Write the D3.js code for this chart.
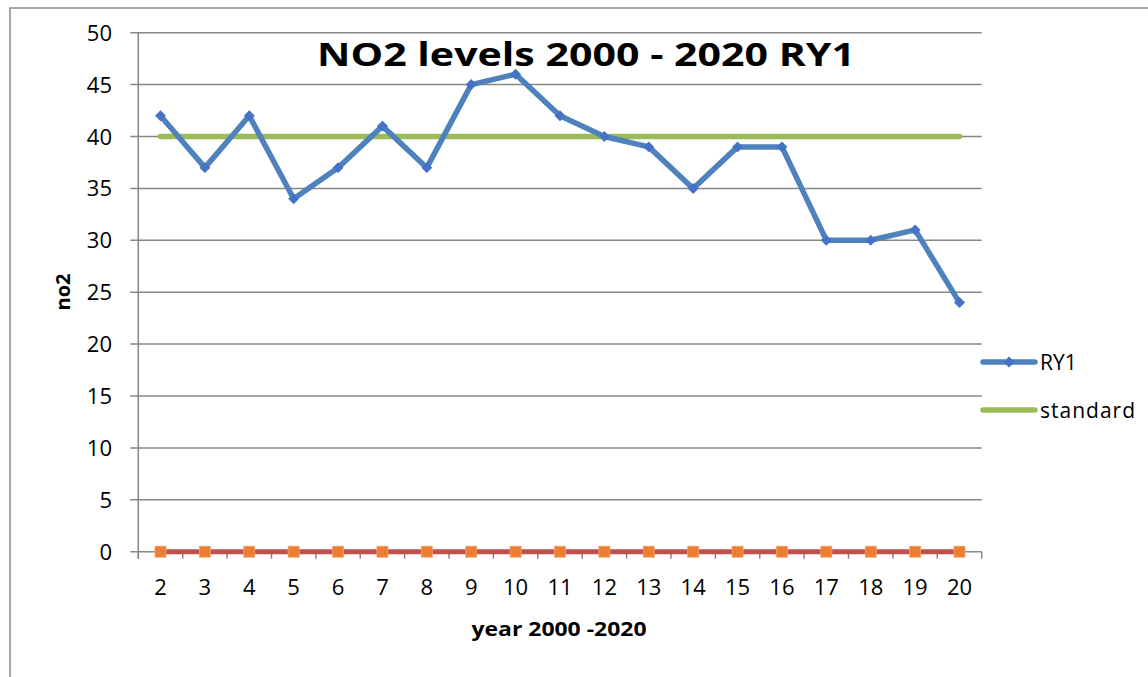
<!DOCTYPE html>
<html>
<head>
<script src="https://cdn.jsdelivr.net/npm/d3@7"></script>
<style type="text/css">
	body { margin: 0; background: #fff; }
	text { font-family: "Open Sans", Lato, sans-serif; }
</style>
</head>
<body>
<script>

	// chart data
	var years = [2, 3, 4, 5, 6, 7, 8, 9, 10, 11, 12, 13, 14, 15, 16, 17, 18, 19, 20];
	var ry1 = [42, 37, 42, 34, 37, 41, 37, 45, 46, 42, 40, 39, 35, 39, 39, 30, 30, 31, 24];
	var standard = [40, 40, 40, 40, 40, 40, 40, 40, 40, 40, 40, 40, 40, 40, 40, 40, 40, 40, 40];
	var zeroSeries = [0, 0, 0, 0, 0, 0, 0, 0, 0, 0, 0, 0, 0, 0, 0, 0, 0, 0, 0];
	var yTicks = [0, 5, 10, 15, 20, 25, 30, 35, 40, 45, 50];

	var canvas = d3.select("body").append("svg")
		.attr("width", 1148)
		.attr("height", 677);

	// outer chart border (cut by the window on right and bottom)
	canvas.append("rect")
		.attr("x", 10).attr("y", 8)
		.attr("width", 1160).attr("height", 700)
		.attr("fill", "none")
		.attr("stroke", "#8c8c8c")
		.attr("stroke-width", 1.5);

	var plotLeft = 138.3, plotRight = 981.7, plotTop = 32.7, plotBottom = 551.7;

	var x = d3.scaleBand().domain(years).range([plotLeft, plotRight]);
	var y = d3.scaleLinear().domain([0, 50]).range([plotBottom, plotTop]);
	var cx = function (d, i) { return x(years[i]) + x.bandwidth() / 2; };

	// horizontal gridlines + y ticks
	canvas.append("g").selectAll("line")
		.data(yTicks)
		.enter()
		.append("line")
		.attr("x1", plotLeft - 8).attr("x2", plotRight)
		.attr("y1", function (d) { return y(d); })
		.attr("y2", function (d) { return y(d); })
		.attr("stroke", "#868686")
		.attr("stroke-width", 1.5);

	canvas.append("g").selectAll("text")
		.data(yTicks)
		.enter()
		.append("text")
		.attr("x", 112)
		.attr("y", function (d) { return y(d) + 8; })
		.attr("text-anchor", "end")
		.attr("font-size", 22)
		.text(function (d) { return d; });

	// y axis line
	canvas.append("line")
		.attr("x1", plotLeft).attr("x2", plotLeft)
		.attr("y1", plotTop).attr("y2", plotBottom + 7)
		.attr("stroke", "#868686")
		.attr("stroke-width", 1.5);

	// x axis ticks at band edges
	var edges = years.map(function (d) { return x(d); }).concat([plotRight]);
	canvas.append("g").selectAll("line")
		.data(edges)
		.enter()
		.append("line")
		.attr("x1", function (d) { return d; })
		.attr("x2", function (d) { return d; })
		.attr("y1", plotBottom).attr("y2", plotBottom + 7)
		.attr("stroke", "#868686")
		.attr("stroke-width", 1.5);

	canvas.append("g").selectAll("text")
		.data(years)
		.enter()
		.append("text")
		.attr("x", function (d) { return x(d) + x.bandwidth() / 2; })
		.attr("y", 595)
		.attr("text-anchor", "middle")
		.attr("font-size", 22)
		.text(function (d) { return d; });

	var line = d3.line()
		.x(cx)
		.y(function (d) { return y(d); });

	// zero series (red line, orange squares)
	canvas.append("path")
		.attr("d", line(zeroSeries))
		.attr("fill", "none")
		.attr("stroke", "#c0504d")
		.attr("stroke-width", 5);
	canvas.append("g").selectAll("rect")
		.data(zeroSeries)
		.enter()
		.append("rect")
		.attr("x", function (d, i) { return cx(d, i) - 5.5; })
		.attr("y", function (d) { return y(d) - 5.5; })
		.attr("width", 11).attr("height", 11)
		.attr("fill", "#ed7d31")
		.attr("stroke", "#f4a36c")
		.attr("stroke-width", 0.8);

	// standard
	canvas.append("path")
		.attr("d", line(standard))
		.attr("fill", "none")
		.attr("stroke", "#9bbb59")
		.attr("stroke-width", 5.5)
		.attr("stroke-linecap", "round");

	// RY1
	canvas.append("path")
		.attr("d", line(ry1))
		.attr("fill", "none")
		.attr("stroke", "#4f81bd")
		.attr("stroke-width", 5.5)
		.attr("stroke-linejoin", "round");
	var diamond = d3.symbol().type(d3.symbolSquare).size(60);
	canvas.append("g").selectAll("path")
		.data(ry1)
		.enter()
		.append("path")
		.attr("d", diamond)
		.attr("transform", function (d, i) { return "translate(" + cx(d, i) + "," + y(d) + ") rotate(45)"; })
		.attr("fill", "#4472c4");

	// legend
	var legend = [
		{ name: "RY1", color: "#4f81bd", marker: true, y: 362 },
		{ name: "standard", color: "#9bbb59", marker: false, y: 410 }
	];
	var lg = canvas.append("g").selectAll("g")
		.data(legend)
		.enter()
		.append("g");
	lg.append("line")
		.attr("x1", 983).attr("x2", 1035)
		.attr("y1", function (d) { return d.y; })
		.attr("y2", function (d) { return d.y; })
		.attr("stroke", function (d) { return d.color; })
		.attr("stroke-width", 5.5)
		.attr("stroke-linecap", "round");
	lg.filter(function (d) { return d.marker; })
		.append("path")
		.attr("d", diamond)
		.attr("transform", function (d) { return "translate(1009," + d.y + ") rotate(45)"; })
		.attr("fill", "#4472c4");
	lg.append("text")
		.attr("x", 1040)
		.attr("y", function (d) { return d.y + 8; })
		.attr("font-size", 21)
		.attr("textLength", function (d) { return d.name == "standard" ? 95 : null; })
		.text(function (d) { return d.name; });

	// titles
	canvas.append("text")
		.attr("x", 586).attr("y", 66)
		.attr("text-anchor", "middle")
		.attr("font-size", 32)
		.attr("font-weight", "bold")
		.attr("textLength", 538)
		.attr("lengthAdjust", "spacingAndGlyphs")
		.text("NO2 levels 2000 - 2020 RY1");

	canvas.append("text")
		.attr("x", 559).attr("y", 636)
		.attr("text-anchor", "middle")
		.attr("font-size", 20)
		.attr("font-weight", "bold")
		.attr("textLength", 175)
		.attr("lengthAdjust", "spacingAndGlyphs")
		.text("year 2000 -2020");

	canvas.append("text")
		.attr("transform", "translate(70,292) rotate(-90)")
		.attr("text-anchor", "middle")
		.attr("font-size", 20)
		.attr("font-weight", "bold")
		.text("no2");

</script>
</body>
</html>
